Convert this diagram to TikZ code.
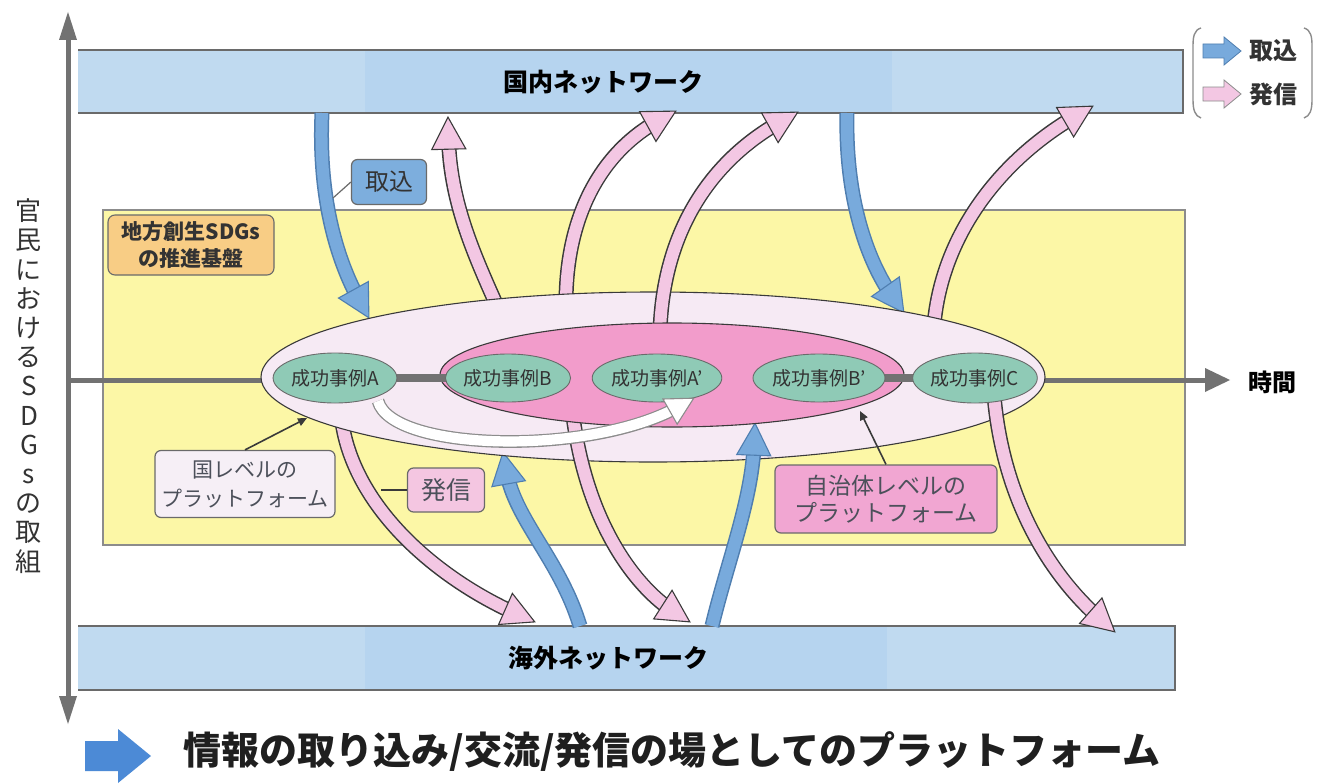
\documentclass[tikz,border=0pt]{standalone}
\usepackage{fontspec}
\setmainfont{Noto Sans CJK JP}
\usetikzlibrary{shapes.geometric,decorations.markings,arrows.meta}
\definecolor{barblue}{HTML}{C0DAF0}
\definecolor{barmid}{HTML}{B6D4EF}
\definecolor{yel}{HTML}{FCF7A6}
\definecolor{bigfill}{HTML}{F6EAF4}
\definecolor{pinkfill}{HTML}{F29CCB}
\definecolor{greenfill}{HTML}{8FCAB6}
\definecolor{ablue}{HTML}{78AADC}
\definecolor{abluedark}{HTML}{4F7EB0}
\definecolor{apink}{HTML}{F3C7E3}
\definecolor{outl}{HTML}{3A3A3A}
\definecolor{axisgray}{HTML}{727272}
\definecolor{orangebox}{HTML}{F8CD85}
\definecolor{txt}{HTML}{333333}
\definecolor{edge}{HTML}{6A6A6A}
\definecolor{natfill}{HTML}{F6EFF6}
\definecolor{hasfill}{HTML}{F4C6E1}
\definecolor{munfill}{HTML}{F1A6D2}
\definecolor{tkfill}{HTML}{7DAEDD}
\definecolor{calltxt}{HTML}{4C505A}
\definecolor{titleblue}{HTML}{4C8AD6}
\definecolor{lightedge}{HTML}{8C8C8C}
% block arrow: fill, outline, start, control 1, control 2, end, size factor
\newcommand{\blockarr}[7]{%
  \draw[line width=#7*15, draw=#2, shorten >=#7*20] (#3) .. controls (#4) and (#5) .. (#6);
  \draw[line width=#7*12, draw=#1, shorten >=#7*19] (#3) .. controls (#4) and (#5) .. (#6);
  \path[decoration={markings, mark=at position 0.999 with {\filldraw[fill=#1,draw=#2,line width=1.1,line join=miter] (0,0) -- (-#7*32,#7*17) -- (-#7*32,-#7*17) -- cycle;}}, decorate] (#3) .. controls (#4) and (#5) .. (#6);
}
\begin{document}
\begin{tikzpicture}[x=1pt,y=-1pt]
\tikzset{
  case/.style={ellipse, fill=greenfill, draw=edge, line width=0.9, inner sep=0pt, text=txt, font=\fontsize{19}{22}\selectfont},
  callout/.style={rounded corners=6, draw=edge, line width=1.2, inner sep=0pt, align=center, text=calltxt},
  pointer/.style={draw=outl, line width=1.6, -{Triangle[length=9,width=8]}},
  axisline/.style={draw=axisgray, line width=5},
  netlabel/.style={inner sep=0pt, text=black, font=\bfseries\fontsize{25}{28}\selectfont},
}
\useasboundingbox (0,0) rectangle (1317,784);
\fill[white] (0,0) rectangle (1317,784);

% yellow base region
\filldraw[fill=yel, draw=lightedge, line width=1.2] (103,210) rectangle (1185,545);

% network bars
\fill[barblue] (78,50) rectangle (1183,113);
\fill[barmid] (365,51) rectangle (892,112);
\draw[edge, line width=1.3] (78,50) -- (1183,50) -- (1183,113) -- (78,113);
\node[netlabel] (dom) at (603,82) {国内ネットワーク};

\fill[barblue] (78,626) rectangle (1175,690);
\fill[barmid] (365,627) rectangle (887,689);
\draw[edge, line width=1.3] (78,626) -- (1175,626) -- (1175,690) -- (78,690);
\node[netlabel] (ovs) at (608,658) {海外ネットワーク};

% vertical axis
\coordinate (vtop) at (68,12);
\coordinate (vbot) at (68,724);
\draw[axisline] (68,36) -- (68,700);
\fill[axisgray] (vtop) -- (77,40) -- (59,40) -- cycle;
\fill[axisgray] (vbot) -- (77,696) -- (59,696) -- cycle;
\node[inner sep=0pt, align=center, text=txt, font=\fontsize{26}{29.2}\selectfont] (vlabel) at (29,386)
  {官\\民\\に\\お\\け\\る\\S\\D\\G\\s\\の\\取\\組};

% time axis
\coordinate (t0) at (68,380);
\coordinate (t1) at (1230,380);
\draw[axisline] (t0) -- (1208,380);
\fill[axisgray] (t1) -- (1205,368) -- (1205,392) -- cycle;
\node[inner sep=0pt, font=\bfseries\fontsize{24}{26}\selectfont] (time) at (1272,382) {時間};

% label of the base region
\node[rounded corners=7, fill=orangebox, draw=edge, line width=1.1, minimum width=166, minimum height=60, inner sep=0pt, align=center, text=txt, font=\bfseries\fontsize{21}{27}\selectfont] (base) at (191,245) {地方創生SDGs\\の推進基盤};

% arrow end points
\coordinate (a1s) at (322,113);  \coordinate (a1e) at (369,318);
\coordinate (a2s) at (497,306);  \coordinate (a2e) at (448,117);
\coordinate (a3s) at (566,300);  \coordinate (a3e) at (676,111);
\coordinate (a4s) at (660,332);  \coordinate (a4e) at (798,112);
\coordinate (a5s) at (847,113);  \coordinate (a5e) at (904,313);
\coordinate (a6s) at (934,325);  \coordinate (a6e) at (1093,106);
\coordinate (a7s) at (342,422);  \coordinate (a7e) at (535,622);
\coordinate (a8s) at (580,626);  \coordinate (a8e) at (503,452);
\coordinate (a9s) at (573,416);  \coordinate (a9e) at (690,622);
\coordinate (a10s) at (712,626); \coordinate (a10e) at (755,423);
\coordinate (a11s) at (994,395); \coordinate (a11e) at (1115,632);

% arrows behind the national-level ellipse
\blockarr{ablue}{abluedark}{a1s}{318,200}{338,262}{a1e}{1}
\blockarr{apink}{outl}{a2s}{472,250}{450,200}{a2e}{1}
\blockarr{apink}{outl}{a3s}{567,210}{605,150}{a3e}{1}
\blockarr{ablue}{abluedark}{a5s}{845,200}{868,262}{a5e}{1}
\blockarr{apink}{outl}{a6s}{942,235}{1000,160}{a6e}{1}
\blockarr{apink}{outl}{a7s}{355,510}{440,580}{a7e}{1}
\blockarr{ablue}{abluedark}{a8s}{560,560}{515,520}{a8e}{1}

% national-level platform
\node[ellipse, fill=bigfill, draw=outl, line width=1.1, minimum width=784, minimum height=170, inner sep=0pt] (nat) at (653,377) {};

% arrows over the national-level ellipse
\blockarr{apink}{outl}{a4s}{663,230}{712,160}{a4e}{1}
\blockarr{apink}{outl}{a9s}{588,530}{640,590}{a9e}{1}
\blockarr{ablue}{abluedark}{a10s}{728,560}{752,500}{a10e}{1}
\blockarr{apink}{outl}{a11s}{1003,500}{1050,575}{a11e}{1}

% municipality-level platform
\node[ellipse, fill=pinkfill, draw=outl, line width=1.1, minimum width=464, minimum height=104, inner sep=0pt] (mun) at (672,375) {};

% success cases
\draw[line width=8, draw=axisgray] (335,378) -- (508,378);
\draw[line width=8, draw=axisgray] (819,378) -- (975,378);
\node[case, minimum width=116, minimum height=50] (A) at (335,378) {成功事例A};
\node[case, minimum width=116, minimum height=48] (B) at (508,378) {成功事例B};
\node[case, minimum width=112, minimum height=48] (A2) at (657,378) {成功事例A'};
\node[case, minimum width=128, minimum height=48] (B2) at (819,378) {成功事例B'};
\node[case, minimum width=122, minimum height=50] (C) at (975,378) {成功事例C};

% white arrow from A to A'
\coordinate (ws) at (378,401);
\coordinate (we) at (694,398);
\blockarr{white}{lightedge}{ws}{392,452}{592,456}{we}{0.85}

% callouts
\node[callout, fill=natfill, minimum width=180, minimum height=67, font=\fontsize{21}{29}\selectfont] (natbox) at (245,484) {国レベルの\\プラットフォーム};
\coordinate (natptr) at (307,418);
\draw[pointer] (natbox.north) -- (natptr);

\node[callout, fill=hasfill, minimum width=77, minimum height=44, font=\fontsize{25}{28}\selectfont] (has) at (446,490) {発信};
\coordinate (hasptr) at (381,490);
\draw[outl, line width=1.4] (has.west) -- (hasptr);

\node[callout, fill=munfill, minimum width=222, minimum height=68, font=\fontsize{23}{27}\selectfont] (munbox) at (886,499) {自治体レベルの\\プラットフォーム};
\coordinate (munptr) at (860,411);
\draw[pointer] (munbox.north) -- (munptr);

\node[callout, fill=tkfill, minimum width=75, minimum height=45, text=txt, font=\fontsize{24}{26}\selectfont] (tk) at (389,182) {取込};
\coordinate (tkptr) at (333,198);
\draw[edge, line width=1.2] (tk.west) -- (tkptr);

% legend
\draw[lightedge, line width=1.4] (1201,28) .. controls (1194,30) and (1193,37) .. (1193,46) -- (1193,100) .. controls (1193,110) and (1195,116) .. (1201,118);
\draw[lightedge, line width=1.4] (1304,28) .. controls (1311,30) and (1312,37) .. (1312,46) -- (1312,100) .. controls (1312,110) and (1310,116) .. (1304,118);
\filldraw[fill=ablue, draw=abluedark, line width=0.8] (1203,44) -- (1224,44) -- (1224,37) -- (1241,51) -- (1224,65) -- (1224,58) -- (1203,58) -- cycle;
\filldraw[fill=apink, draw=lightedge, line width=0.8] (1203,87) -- (1224,87) -- (1224,80) -- (1241,94) -- (1224,108) -- (1224,101) -- (1203,101) -- cycle;
\node[inner sep=0pt, text=txt, font=\bfseries\fontsize{24}{26}\selectfont] (lgin) at (1273,51) {取込};
\node[inner sep=0pt, text=txt, font=\bfseries\fontsize{24}{26}\selectfont] (lgout) at (1273,94) {発信};

% title
\fill[titleblue] (85,741) -- (118,741) -- (118,729) -- (151,756) -- (118,783) -- (118,771) -- (85,771) -- cycle;
\node[inner sep=0pt, text=black!88, font=\bfseries\fontsize{38}{42}\selectfont] (title) at (672,752) {情報の取り込み/交流/発信の場としてのプラットフォーム};
\end{tikzpicture}
\end{document}
